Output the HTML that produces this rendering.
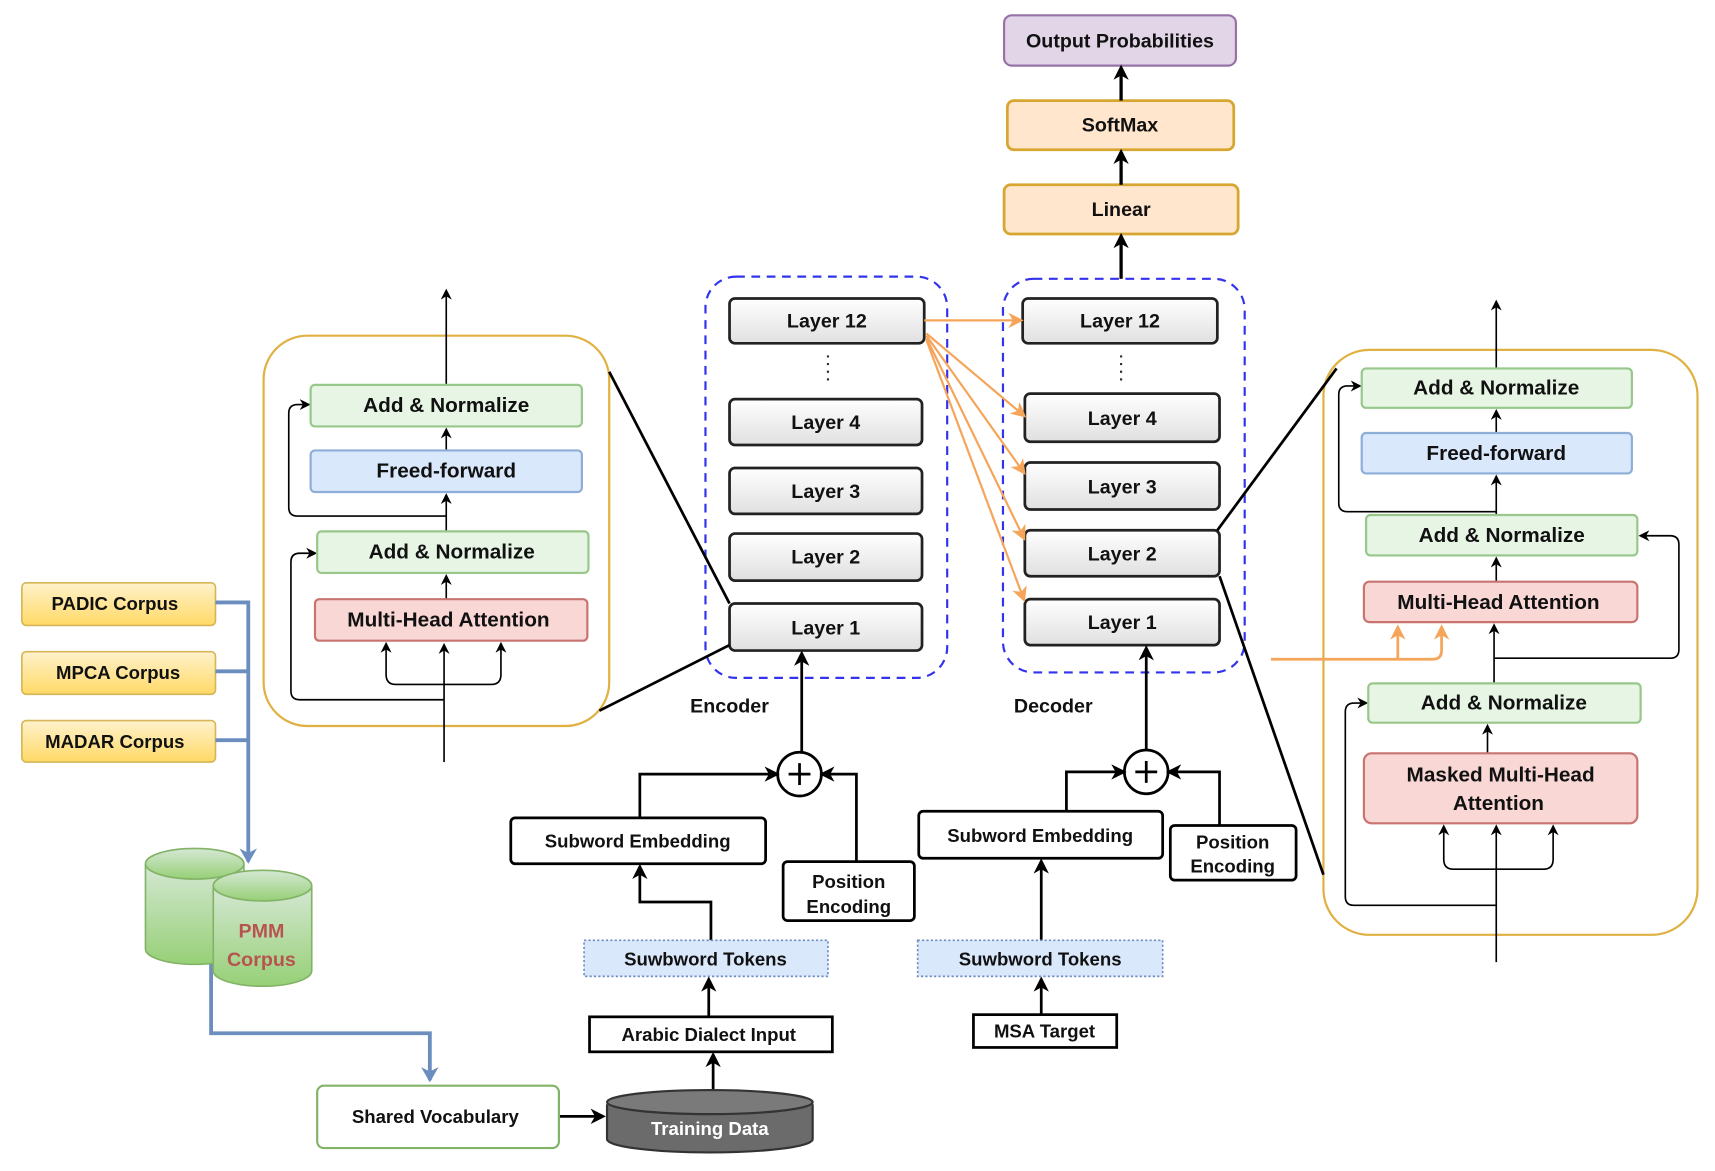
<!DOCTYPE html>
<html><head><meta charset="utf-8"><style>
html,body{margin:0;padding:0;background:#fff}
svg{display:block}
text{font-family:"Liberation Sans",Arial,sans-serif;font-weight:bold;fill:#111;text-anchor:middle;dominant-baseline:central}
</style></head><body>
<svg width="1715" height="1171" viewBox="0 0 1568 1071" preserveAspectRatio="none" xmlns="http://www.w3.org/2000/svg">
<defs>
<linearGradient id="lg" x1="0" y1="0" x2="0" y2="1"><stop offset="0" stop-color="#ffffff"/><stop offset="1" stop-color="#e0e0e0"/></linearGradient>
<linearGradient id="yg" x1="0" y1="0" x2="0" y2="1"><stop offset="0" stop-color="#fff2cc"/><stop offset="1" stop-color="#ffd966"/></linearGradient>
<linearGradient id="gg" x1="0" y1="0" x2="0" y2="1"><stop offset="0" stop-color="#d5e8d4"/><stop offset="1" stop-color="#97d077"/></linearGradient>
<marker id="a" markerWidth="10" markerHeight="10" refX="8" refY="5" orient="auto" markerUnits="userSpaceOnUse"><path d="M0,0 L10,5 L0,10 L3,5 z" fill="#000"/></marker>
<marker id="ab" markerWidth="14" markerHeight="14" refX="11" refY="7" orient="auto" markerUnits="userSpaceOnUse"><path d="M0,0 L14,7 L0,14 L4,7 z" fill="#000"/></marker>
<marker id="ao" markerWidth="14" markerHeight="14" refX="11" refY="7" orient="auto" markerUnits="userSpaceOnUse"><path d="M0,0 L14,7 L0,14 L4,7 z" fill="#f5a55a"/></marker>
<marker id="abl" markerWidth="14" markerHeight="16" refX="12" refY="8" orient="auto" markerUnits="userSpaceOnUse"><path d="M0,0 L14,8 L0,16 L4,8 z" fill="#6c8ebf"/></marker>
</defs>

<!-- top -->
<rect x="918" y="14" width="212" height="46" rx="7" fill="#e1d5e7" stroke="#9673a6" stroke-width="2"/>
<text x="1024" y="38" font-size="18">Output  Probabilities</text>
<rect x="921" y="92" width="207" height="45" rx="6" fill="#ffe6cc" stroke="#d6a630" stroke-width="2.5"/>
<text x="1024" y="115" font-size="18">SoftMax</text>
<rect x="918" y="169" width="214" height="45" rx="6" fill="#ffe6cc" stroke="#d6a630" stroke-width="2.5"/>
<text x="1025" y="192" font-size="18">Linear</text>
<g stroke="#000" stroke-width="3" fill="none">
<line x1="1025" y1="92" x2="1025" y2="62" marker-end="url(#ab)"/>
<line x1="1025" y1="169" x2="1025" y2="139" marker-end="url(#ab)"/>
<line x1="1025" y1="255" x2="1025" y2="216" marker-end="url(#ab)"/>
</g>

<!-- encoder/decoder dashed -->
<rect x="645" y="253" width="221" height="367" rx="28" fill="none" stroke="#3333ee" stroke-width="2" stroke-dasharray="8,6"/>
<rect x="917" y="255" width="221" height="360" rx="28" fill="none" stroke="#3333ee" stroke-width="2" stroke-dasharray="8,6"/>
<g stroke="#222" stroke-width="2.5" fill="url(#lg)">
<rect x="667" y="273" width="178" height="41" rx="5"/>
<rect x="667" y="365" width="176" height="42" rx="5"/>
<rect x="667" y="428" width="176" height="42" rx="5"/>
<rect x="667" y="488" width="176" height="43" rx="5"/>
<rect x="667" y="552" width="176" height="43" rx="5"/>
<rect x="935" y="273" width="178" height="41" rx="5"/>
<rect x="937" y="360" width="178" height="44" rx="5"/>
<rect x="937" y="423" width="178" height="43" rx="5"/>
<rect x="937" y="485" width="178" height="42" rx="5"/>
<rect x="937" y="548" width="178" height="42" rx="5"/>
</g>
<g font-size="18">
<text x="756" y="294">Layer 12</text><text x="755" y="387">Layer 4</text><text x="755" y="450">Layer 3</text><text x="755" y="510">Layer 2</text><text x="755" y="575">Layer 1</text>
<text x="1024" y="294">Layer 12</text><text x="1026" y="383">Layer 4</text><text x="1026" y="446">Layer 3</text><text x="1026" y="507">Layer 2</text><text x="1026" y="570">Layer 1</text>
</g>
<g stroke="#333" stroke-width="2" stroke-dasharray="2,5"><line x1="757" y1="325" x2="757" y2="352"/><line x1="1025" y1="325" x2="1025" y2="352"/></g>
<g stroke="#f5a55a" stroke-width="2" fill="none">
<line x1="845" y1="293" x2="933" y2="293" marker-end="url(#ao)"/>
<line x1="847" y1="305" x2="936" y2="380" marker-end="url(#ao)"/>
<line x1="847" y1="307" x2="936" y2="432" marker-end="url(#ao)"/>
<line x1="847" y1="309" x2="936" y2="492" marker-end="url(#ao)"/>
<line x1="847" y1="311" x2="936" y2="548" marker-end="url(#ao)"/>
</g>
<text x="667" y="646" font-size="18">Encoder</text>
<text x="963" y="646" font-size="18">Decoder</text>

<!-- encoder input -->
<g stroke="#000" stroke-width="2.5" fill="none">
<circle cx="731" cy="708" r="20" fill="#fff"/>
<line x1="731" y1="698" x2="731" y2="718"/><line x1="721" y1="708" x2="741" y2="708"/>
<line x1="733" y1="688" x2="733" y2="598" marker-end="url(#ab)"/>
<polyline points="585,748 585,708 710,708" marker-end="url(#ab)"/>
<polyline points="783,788 783,708 752,708" marker-end="url(#ab)"/>
<polyline points="650,860 650,825 585,825 585,793" marker-end="url(#ab)"/>
<line x1="648" y1="930" x2="648" y2="896" marker-end="url(#ab)"/>
<line x1="652" y1="997" x2="652" y2="965" marker-end="url(#ab)"/>
<line x1="511" y1="1021" x2="551" y2="1021" marker-end="url(#ab)"/>
<!-- decoder input -->
<circle cx="1048" cy="706" r="20" fill="#fff"/>
<line x1="1048" y1="696" x2="1048" y2="716"/><line x1="1038" y1="706" x2="1058" y2="706"/>
<line x1="1048" y1="686" x2="1048" y2="593" marker-end="url(#ab)"/>
<polyline points="975,742 975,706 1027,706" marker-end="url(#ab)"/>
<polyline points="1115,755 1115,706 1069,706" marker-end="url(#ab)"/>
<line x1="952" y1="860" x2="952" y2="788" marker-end="url(#ab)"/>
<line x1="952" y1="928" x2="952" y2="896" marker-end="url(#ab)"/>
</g>
<g stroke="#000" stroke-width="2.5" fill="#fff">
<rect x="467" y="748" width="233" height="42" rx="4"/>
<rect x="716" y="788" width="120" height="54" rx="4"/>
<rect x="539" y="930" width="222" height="32"/>
<rect x="840" y="742" width="223" height="43" rx="4"/>
<rect x="1070" y="755" width="115" height="50" rx="4"/>
<rect x="890" y="928" width="131" height="30"/>
</g>
<g stroke="#6c8ebf" stroke-width="1.5" stroke-dasharray="2,2" fill="#dae8fc">
<rect x="534" y="860" width="223" height="33"/>
<rect x="839" y="860" width="224" height="33"/>
</g>
<g font-size="17">
<text x="583" y="769">Subword Embedding</text>
<text x="776" y="806">Position</text><text x="776" y="829">Encoding</text>
<text x="645" y="877">Suwbword Tokens</text>
<text x="648" y="946">Arabic Dialect Input</text>
<text x="951" y="764">Subword Embedding</text>
<text x="1127" y="770">Position</text><text x="1127" y="792">Encoding</text>
<text x="951" y="877">Suwbword Tokens</text>
<text x="955" y="943">MSA Target</text>
</g>

<!-- training data cylinder -->
<path d="M555,1010 L555,1042 A94,12 0 0 0 743,1042 L743,1010" fill="#6b6b6b" stroke="#333" stroke-width="2"/>
<ellipse cx="649" cy="1008" rx="94" ry="11" fill="#7a7a7a" stroke="#333" stroke-width="2"/>
<text x="649" y="1032" font-size="17" style="fill:#fff">Training Data</text>
<rect x="290" y="993" width="221" height="57" rx="6" fill="#fff" stroke="#82b366" stroke-width="2"/>
<text x="398" y="1021" font-size="17">Shared Vocabulary</text>

<!-- corpora -->
<g stroke="#d6b656" stroke-width="1.5" fill="url(#yg)">
<rect x="20" y="533" width="177" height="39" rx="4"/>
<rect x="20" y="596" width="177" height="39" rx="4"/>
<rect x="20" y="659" width="177" height="38" rx="4"/>
</g>
<g font-size="17" style="font-weight:normal">
<text x="105" y="552" style="font-weight:bold">PADIC Corpus</text>
<text x="108" y="615" style="font-weight:bold">MPCA Corpus</text>
<text x="105" y="678" style="font-weight:bold">MADAR Corpus</text>
</g>
<g stroke="#6c8ebf" stroke-width="3.5" fill="none">
<polyline points="197,551 227,551 227,788" marker-end="url(#abl)"/>
<line x1="197" y1="614" x2="227" y2="614"/>
<line x1="197" y1="677" x2="227" y2="677"/>
<polyline points="193,880 193,945 393,945 393,988" marker-end="url(#abl)"/>
</g>
<g stroke="#82b366" stroke-width="1.5" fill="url(#gg)">
<path d="M133,790 L133,868 A45,14 0 0 0 223,868 L223,790"/>
<ellipse cx="178" cy="790" rx="45" ry="14"/>
<path d="M195,810 L195,888 A45,14 0 0 0 285,888 L285,810"/>
<ellipse cx="240" cy="810" rx="45" ry="14"/>
</g>
<text x="239" y="852" font-size="18" style="fill:#b85450">PMM</text>
<text x="239" y="878" font-size="18" style="fill:#b85450">Corpus</text>

<!-- left panel -->
<rect x="241" y="307" width="316" height="357" rx="40" fill="none" stroke="#e0b040" stroke-width="2"/>
<g stroke="#000" stroke-width="1.5" fill="none">
<line x1="557" y1="340" x2="667" y2="552" stroke-width="2.5"/>
<line x1="548" y1="650" x2="667" y2="590" stroke-width="2.5"/>
<line x1="406" y1="697" x2="406" y2="590" marker-end="url(#a)"/>
<path d="M406,626 L362,626 Q353,626 353,617 L353,589" marker-end="url(#a)"/>
<path d="M406,626 L449,626 Q458,626 458,617 L458,589" marker-end="url(#a)"/>
<path d="M406,640 L274,640 Q266,640 266,632 L266,514 Q266,506 274,506 L288,506" marker-end="url(#a)"/>
<line x1="408" y1="548" x2="408" y2="527" marker-end="url(#a)"/>
<line x1="408" y1="486" x2="408" y2="453" marker-end="url(#a)"/>
<path d="M408,472 L272,472 Q264,472 264,464 L264,378 Q264,370 272,370 L282,370" marker-end="url(#a)"/>
<line x1="408" y1="412" x2="408" y2="393" marker-end="url(#a)"/>
<line x1="408" y1="352" x2="408" y2="266" marker-end="url(#a)"/>
</g>
<rect x="284" y="352" width="248" height="38" rx="4" fill="#e6f5e4" stroke="#97c78a" stroke-width="2"/>
<rect x="284" y="412" width="248" height="38" rx="4" fill="#dae8fc" stroke="#8eaed8" stroke-width="2"/>
<rect x="290" y="486" width="248" height="38" rx="4" fill="#e6f5e4" stroke="#97c78a" stroke-width="2"/>
<rect x="288" y="548" width="249" height="38" rx="4" fill="#f8d7d5" stroke="#c87470" stroke-width="2"/>
<g font-size="19">
<text x="408" y="371">Add &amp; Normalize</text>
<text x="408" y="431">Freed-forward</text>
<text x="413" y="505">Add &amp; Normalize</text>
<text x="410" y="567">Multi-Head Attention</text>
</g>

<!-- right panel -->
<rect x="1210" y="320" width="342" height="535" rx="42" fill="none" stroke="#e0b040" stroke-width="2"/>
<g stroke="#000" stroke-width="1.5" fill="none">
<line x1="1113" y1="485" x2="1222" y2="337" stroke-width="2.5"/>
<line x1="1115" y1="527" x2="1210" y2="800" stroke-width="2.5"/>
<line x1="1368" y1="880" x2="1368" y2="756" marker-end="url(#a)"/>
<path d="M1368,795 L1329,795 Q1320,795 1320,786 L1320,756" marker-end="url(#a)"/>
<path d="M1368,795 L1411,795 Q1420,795 1420,786 L1420,756" marker-end="url(#a)"/>
<path d="M1368,828 L1238,828 Q1230,828 1230,820 L1230,651 Q1230,643 1238,643 L1249,643" marker-end="url(#a)"/>
<line x1="1360" y1="689" x2="1360" y2="664" marker-end="url(#a)"/>
<line x1="1366" y1="625" x2="1366" y2="572" marker-end="url(#a)"/>
<path d="M1366,602 L1527,602 Q1535,602 1535,594 L1535,498 Q1535,490 1527,490 L1500,490" marker-end="url(#a)"/>
<line x1="1368" y1="532" x2="1368" y2="511" marker-end="url(#a)"/>
<line x1="1368" y1="471" x2="1368" y2="436" marker-end="url(#a)"/>
<path d="M1368,468 L1232,468 Q1224,468 1224,460 L1224,361 Q1224,353 1232,353 L1243,353" marker-end="url(#a)"/>
<line x1="1368" y1="396" x2="1368" y2="376" marker-end="url(#a)"/>
<line x1="1368" y1="337" x2="1368" y2="276" marker-end="url(#a)"/>
</g>
<g stroke="#f5a55a" stroke-width="2.5" fill="none">
<path d="M1162,603 L1310,603 Q1318,603 1318,595 L1318,574" marker-end="url(#ao)"/>
<line x1="1278" y1="603" x2="1278" y2="574" marker-end="url(#ao)"/>
</g>
<rect x="1245" y="337" width="247" height="36" rx="4" fill="#e6f5e4" stroke="#97c78a" stroke-width="2"/>
<rect x="1245" y="396" width="247" height="37" rx="4" fill="#dae8fc" stroke="#8eaed8" stroke-width="2"/>
<rect x="1249" y="471" width="248" height="37" rx="4" fill="#e6f5e4" stroke="#97c78a" stroke-width="2"/>
<rect x="1247" y="532" width="250" height="37" rx="5" fill="#f8d7d5" stroke="#c87470" stroke-width="2"/>
<rect x="1251" y="625" width="249" height="36" rx="4" fill="#e6f5e4" stroke="#97c78a" stroke-width="2"/>
<rect x="1247" y="689" width="250" height="64" rx="7" fill="#f8d7d5" stroke="#c87470" stroke-width="2"/>
<g font-size="19">
<text x="1368" y="355">Add &amp; Normalize</text>
<text x="1368" y="415">Freed-forward</text>
<text x="1373" y="490">Add &amp; Normalize</text>
<text x="1370" y="551">Multi-Head Attention</text>
<text x="1375" y="643">Add &amp; Normalize</text>
<text x="1372" y="709">Masked Multi-Head</text>
<text x="1370" y="735">Attention</text>
</g>
</svg>
</body></html>
